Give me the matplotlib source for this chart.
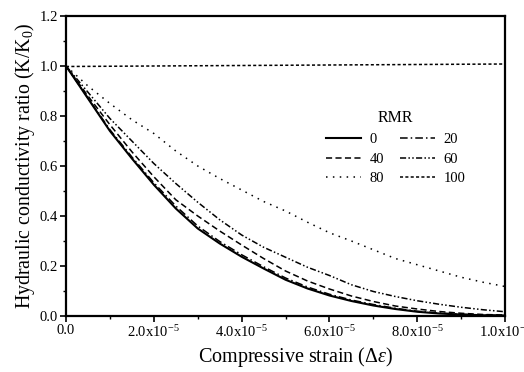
import matplotlib
matplotlib.use("Agg")
import matplotlib.pyplot as plt
from matplotlib.ticker import MultipleLocator, FixedLocator

plt.rcParams['font.family'] = ['Liberation Serif', 'DejaVu Serif']
plt.rcParams['mathtext.fontset'] = 'custom'
plt.rcParams['mathtext.rm'] = 'Liberation Serif'
plt.rcParams['mathtext.it'] = 'Liberation Serif:italic'

# strain values (units of 1e-4)
strain = [0, .05, .1, .15, .2, .25, .3, .35, .4, .45, .5,
          .55, .6, .65, .7, .75, .8, .85, .9, .95, 1.0]
rmr0 = [1.0, 0.87, 0.74, 0.63, 0.525, 0.43, 0.35, 0.29, 0.237, 0.19, 0.145,
        0.11, 0.082, 0.06, 0.042, 0.028, 0.017, 0.01, 0.006, 0.003, 0.002]
rmr20 = [1.0, 0.872, 0.745, 0.636, 0.533, 0.44, 0.36, 0.298, 0.245, 0.197, 0.152,
         0.116, 0.087, 0.064, 0.046, 0.031, 0.019, 0.012, 0.007, 0.004, 0.002]
rmr40 = [1.0, 0.88, 0.765, 0.657, 0.557, 0.465, 0.40, 0.34, 0.284, 0.23, 0.18,
         0.14, 0.108, 0.08, 0.058, 0.04, 0.028, 0.018, 0.011, 0.006, 0.004]
rmr60 = [1.0, 0.895, 0.79, 0.70, 0.61, 0.53, 0.455, 0.385, 0.324, 0.275, 0.235,
         0.195, 0.162, 0.125, 0.098, 0.078, 0.061, 0.047, 0.035, 0.025, 0.017]
rmr80 = [1.0, 0.92, 0.85, 0.785, 0.73, 0.66, 0.60, 0.55, 0.504, 0.458, 0.42,
         0.375, 0.333, 0.30, 0.265, 0.23, 0.205, 0.18, 0.155, 0.135, 0.118]
strain100 = [0, 1.0]
rmr100 = [0.998, 1.008]

labels = ['0', '20', '40', '60', '80', '100']
xtick_vals = [0, 0.2, 0.4, 0.6, 0.8, 1.0]
xtick_labels = ['0.0', r'2.0x10$^{-5}$', r'4.0x10$^{-5}$', r'6.0x10$^{-5}$',
                r'8.0x10$^{-5}$', r'1.0x10$^{-4}$']

fig = plt.figure(figsize=(5.24, 3.72), dpi=100)
ax = fig.add_axes([0.126, 0.1505, 0.838, 0.8065])

lw = 1.1
h0, = ax.plot(strain, rmr0, color='black', lw=1.5, ls='-', label=labels[0])
h20, = ax.plot(strain, rmr20, color='black', lw=lw, ls=(0, (5, 2, 1, 2)), label=labels[1])
h40, = ax.plot(strain, rmr40, color='black', lw=lw, ls=(0, (4, 2.2)), label=labels[2])
h60, = ax.plot(strain, rmr60, color='black', lw=lw, ls=(0, (4, 1.5, 1, 1.5, 1, 1.5)), label=labels[3])
h80, = ax.plot(strain, rmr80, color='black', lw=lw, ls=(0, (1, 3.5)), label=labels[4])
h100, = ax.plot(strain100, rmr100, color='black', lw=lw, ls=(0, (2, 1.5)), label=labels[5])

ax.set_xlim(0, 1.0)
ax.set_ylim(0, 1.2)
ax.xaxis.set_major_locator(FixedLocator(xtick_vals))
ax.set_xticklabels(xtick_labels)
ax.xaxis.set_minor_locator(MultipleLocator(0.1))
ax.yaxis.set_major_locator(MultipleLocator(0.2))
ax.yaxis.set_minor_locator(MultipleLocator(0.1))
ax.yaxis.set_major_formatter(plt.FuncFormatter(lambda v, p: f'{v:.1f}'))

ax.tick_params(which='major', direction='out', length=4, width=1.2, labelsize=10.5,
               top=False, right=False, pad=2)
ax.tick_params(which='minor', direction='out', length=2, width=1.0, top=False, right=False)
for s in ax.spines.values():
    s.set_linewidth(1.6)

ax.set_xlabel(r'Compressive strain ($\Delta\varepsilon$)', fontsize=14.5)
ax.xaxis.set_label_coords(0.522, -0.098)
ax.set_ylabel(r'Hydraulic conductivity ratio (K/K$_{\rm 0}$)', fontsize=14.3, labelpad=2)

handles = [h0, h40, h80, h20, h60, h100]
leg = ax.legend(handles, [h.get_label() for h in handles], title='RMR', ncol=2,
                frameon=False, fontsize=10.5, title_fontsize=11.5,
                loc='upper left', bbox_to_anchor=(0.565, 0.725), handlelength=2.4,
                columnspacing=1.1, handletextpad=0.6, labelspacing=0.45,
                borderpad=0.3)

fig.savefig('out.png', dpi=100)
